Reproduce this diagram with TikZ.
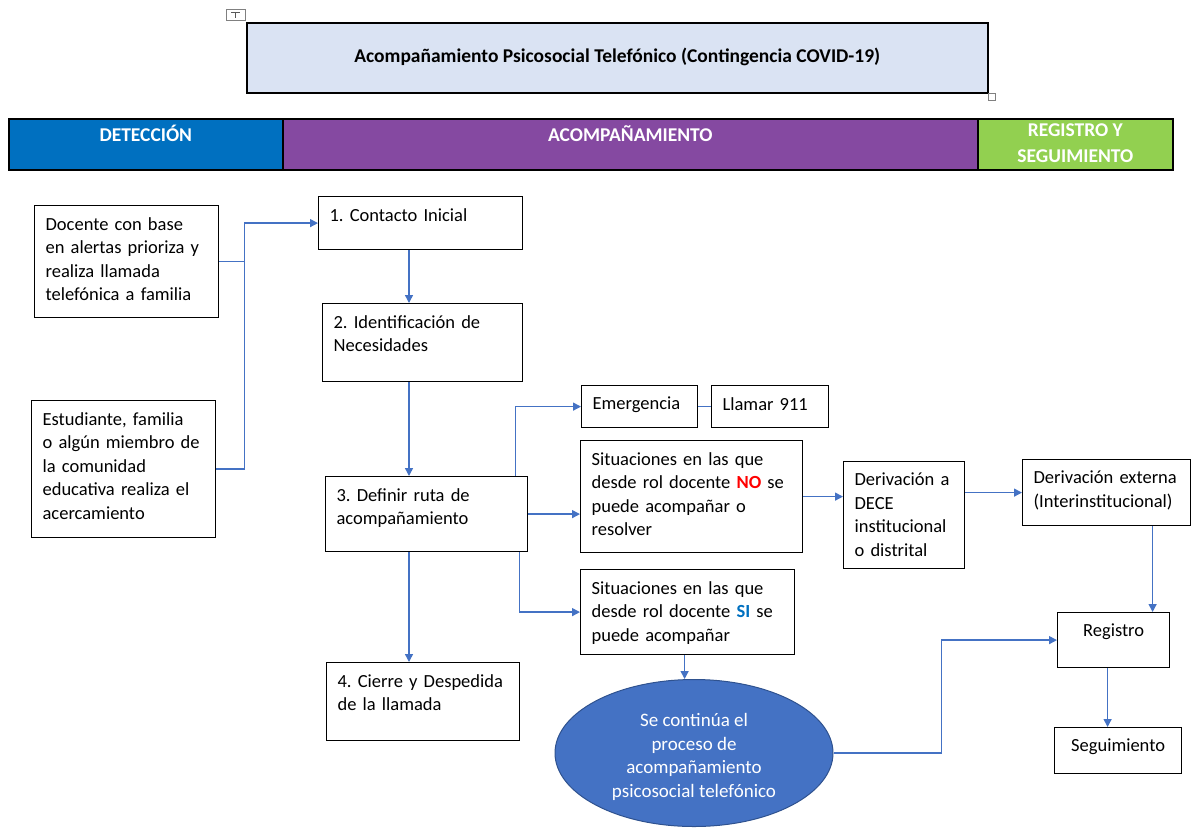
\documentclass[tikz,border=0pt]{standalone}
\usepackage{fontspec}
\setmainfont{Carlito}
\usetikzlibrary{arrows.meta,shapes.geometric}

\definecolor{azul}{HTML}{4472C4}
\definecolor{azulborde}{HTML}{2F528F}
\definecolor{azulfuerte}{HTML}{0070C0}
\definecolor{morado}{RGB}{133,73,161}
\definecolor{verde}{HTML}{92D050}
\definecolor{celeste}{HTML}{DAE3F3}
\definecolor{rojo}{HTML}{FF0000}

\newcommand{\fuente}{\fontsize{18.5}{23.5}\selectfont\frenchspacing}

% caja con texto arriba: {nombre}{x}{y}{ancho}{alto}{texto}
\newcommand{\caja}[6]{%
	\node[caja, minimum width=#4, minimum height=#5] (#1) at (#2,#3) {};
	\pgfmathsetmacro\ancho{#4-12}
	\node[texto, align=left, text width=\ancho pt] (#1t) at ([xshift=5pt, yshift=-12pt]#1.north) {#6};
}
% lo mismo, texto centrado
\newcommand{\cajac}[6]{%
	\node[caja, minimum width=#4, minimum height=#5] (#1) at (#2,#3) {};
	\node[texto, align=center] (#1t) at ([yshift=-12pt]#1.north) {#6};
}

\tikzset{
	caja/.style={draw, line width=1.2pt, anchor=north west, inner sep=0pt},
	texto/.style={anchor=north, inner sep=0pt, font=\fuente},
	banda/.style={draw, line width=1.6pt, anchor=north west, inner sep=0pt, minimum height=51},
	cabtexto/.style={anchor=north, inner sep=0pt, align=center, text=white, font=\fontsize{19.5}{26}\selectfont\bfseries},
	flecha/.style={draw=azul, line width=1.4pt, -{Triangle[width=8pt,length=8pt]}},
	linea/.style={draw=azul, line width=1.4pt},
	elipse/.style={ellipse, draw=azulborde, line width=1pt, fill=azul, inner sep=0pt,
		minimum width=278, minimum height=147},
	elipsetexto/.style={text=white, align=center, inner sep=0pt, font=\fontsize{19}{23.5}\selectfont},
}

\begin{document}
\begin{tikzpicture}[x=1pt, y=-1pt]

\useasboundingbox (0,0) rectangle (1196,828);

%Titulo
\node[caja, fill=celeste, line width=1.5pt, minimum width=741, minimum height=70] (titulo) at (246,22) {};
\node[font=\fontsize{19.5}{23.5}\selectfont\bfseries] (titulot) at ([yshift=1pt]titulo.center) {Acompañamiento Psicosocial Telefónico (Contingencia COVID-19)};
\draw[gray, line width=0.6pt] (226,9) rectangle (245,20);
\draw[gray!70!black, line width=0.8pt] (231,12) -- (240,12) (235.5,12) -- (235.5,18);
\draw[gray, line width=0.6pt] (988,93) rectangle (995,100);

%Cabecera
\node[banda, fill=azulfuerte, minimum width=274] (det) at (8,118) {};
\node[banda, fill=morado, minimum width=695] (aco) at (282,118) {};
\node[banda, fill=verde, minimum width=195] (reg) at (977,118) {};
\node[cabtexto] (dett) at ([yshift=-7pt]det.north) {DETECCIÓN};
\node[cabtexto] (acot) at ([yshift=-7pt]aco.north) {ACOMPAÑAMIENTO};
\node[cabtexto] (regt) at ([yshift=-6pt]reg.north) {REGISTRO Y\\SEGUIMIENTO};

%Cajas
\caja{A}{34}{205}{184}{112}{Docente con base\\en alertas prioriza y\\realiza llamada\\telefónica a familia}
\caja{B}{31}{400}{184}{137}{Estudiante, familia\\o algún miembro de\\la comunidad\\educativa realiza el\\acercamiento}
\caja{C}{318}{196}{204}{53}{1. Contacto Inicial}
\caja{D}{322}{303}{200}{78}{2. Identificación de\\Necesidades}
\caja{E}{325}{476}{202}{75}{3. Definir ruta de\\acompañamiento}
\caja{F}{326}{662}{193}{78}{4. Cierre y Despedida\\de la llamada}
\caja{Em}{581}{385}{116}{42}{Emergencia}
\caja{L}{711}{385}{117}{42}{Llamar 911}
\caja{NO}{580}{440}{222}{112}{Situaciones en las que\\desde rol docente \textcolor{rojo}{\bfseries NO} se\\puede acompañar o\\resolver}
\caja{SI}{580}{569}{214}{85}{Situaciones en las que\\desde rol docente \textcolor{azulfuerte}{\bfseries SI} se\\puede acompañar}
\caja{DECE}{843}{461}{121}{107}{Derivación a\\DECE\\institucional\\o distrital}
\caja{EXT}{1022}{459}{168}{66}{Derivación externa\\(Interinstitucional)}
\cajac{REG}{1057}{612}{112}{55}{Registro}
\cajac{SEG}{1054}{727}{127}{46}{Seguimiento}

\node[elipse] (elip) at (694,753) {};
\node[elipsetexto] (elipt) at ([yshift=-4pt]elip.center) {Se continúa el\\proceso de\\acompañamiento\\psicosocial telefónico};

%Flechas
\coordinate (eje) at (409,0);

\draw[linea] (A.east) -- ++(25,0) coordinate (nudo);
\draw[flecha] (B.east) -| (nudo) |- (C.west);

\draw[flecha] (C.south -| eje) -- (D.north -| eje);
\draw[flecha] (D.south -| eje) -- (E.north -| eje);
\draw[flecha] (E.south -| eje) -- (F.north -| eje);

\draw[flecha] ([xshift=-13pt]E.north east) |- (Em.west);
\draw[linea] (Em.east) -- (Em.east -| L.west);
\draw[flecha] (E.east) -- (E.east -| NO.west);
\draw[flecha] ([xshift=-9pt]E.south east) |- (SI.west);

\draw[flecha] (NO.east) -- (NO.east -| DECE.west);
\draw[flecha] (DECE.east |- EXT.west) -- (EXT.west);
\draw[flecha] ([xshift=46pt]EXT.south) -- ([xshift=46pt]EXT.south |- REG.north);

\draw[flecha] ([xshift=-3pt]SI.south) -- ([xshift=-3pt]SI.south |- elip.north);
\draw[flecha] (elip.east) -- ++(108,0) |- (REG.west);
\draw[flecha] ([xshift=-6pt]REG.south) -- ([xshift=-6pt]REG.south |- SEG.north);

\end{tikzpicture}
\end{document}
